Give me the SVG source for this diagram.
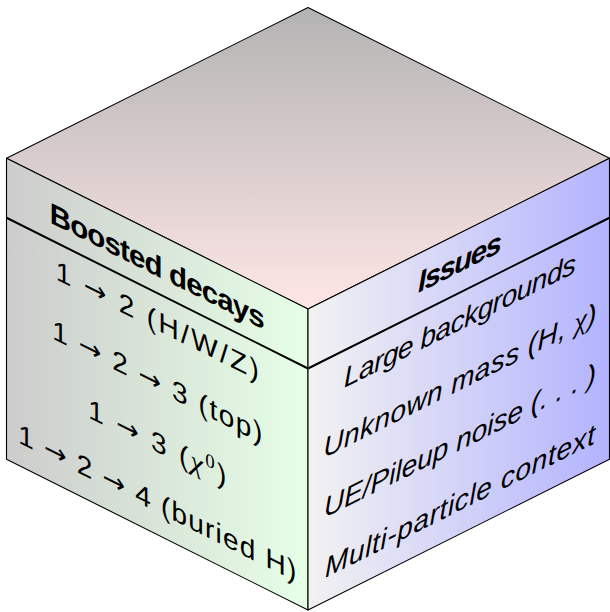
<svg xmlns="http://www.w3.org/2000/svg" width="610" height="612" viewBox="0 0 610 612">
<defs>
<linearGradient id="gTop" gradientUnits="userSpaceOnUse" x1="0" y1="7.5" x2="0" y2="309"><stop offset="0" stop-color="#b3b3b3"/><stop offset="1" stop-color="#ffe6e6"/></linearGradient>
<linearGradient id="gLeft" gradientUnits="userSpaceOnUse" x1="6.5" y1="0" x2="308" y2="0"><stop offset="0" stop-color="#cccccc"/><stop offset="1" stop-color="#e6ffe6"/></linearGradient>
<linearGradient id="gRight" gradientUnits="userSpaceOnUse" x1="308" y1="0" x2="609.5" y2="0"><stop offset="0" stop-color="#f2f2f2"/><stop offset="1" stop-color="#b3b3ff"/></linearGradient>
<style>
.face{stroke:#000;stroke-width:1.1;stroke-linejoin:round}
.div{stroke:#000;stroke-width:2;fill:none}
.t{font-family:"Liberation Sans","DejaVu Sans",sans-serif;font-size:28px;fill:#000;text-anchor:middle}
.h{font-weight:bold;font-size:29.5px}
.it{font-style:italic}
.m{font-family:"Liberation Serif","DejaVu Serif",serif;font-style:italic}
.a{font-family:"DejaVu Sans",sans-serif;font-size:27px}
.sup{font-family:"Liberation Serif","DejaVu Serif",serif;font-style:normal;font-size:19px}
</style>
</defs>
<g id="top-face">
<polygon class="face" points="308,7.5 609.5,158.25 308,309 6.5,158.25" fill="url(#gTop)"/>
</g>
<g id="left-face">
<polygon class="face" points="6.5,158.25 308,309 308,610 6.5,459.25" fill="url(#gLeft)"/>
<line class="div" x1="6.5" y1="217.75" x2="308" y2="368.5"/>
<g transform="matrix(1,0.5,0,1,6.5,158.25)">
<text class="t h" x="150.75" y="42.7" textLength="215">Boosted decays</text>
<text class="t" x="150.75" y="96.5" textLength="203">1 <tspan class="a">→</tspan> 2 (H/W/Z)</text>
<text class="t" x="150.75" y="157.5" textLength="210">1 <tspan class="a">→</tspan> 2 <tspan class="a">→</tspan> 3 (top)</text>
<text class="t" x="150.75" y="218.5" textLength="138">1 <tspan class="a">→</tspan> 3 (<tspan class="m">χ</tspan><tspan class="sup" dy="-11">0</tspan><tspan dy="11">)</tspan></text>
<text class="t" x="150.75" y="278.5" textLength="278">1 <tspan class="a">→</tspan> 2 <tspan class="a">→</tspan> 4 (buried H)</text>
</g>
</g>
<g id="right-face">
<polygon class="face" points="308,309 609.5,158.25 609.5,459.25 308,610" fill="url(#gRight)"/>
<line class="div" x1="308" y1="368.5" x2="609.5" y2="217.75"/>
<g transform="matrix(1,-0.5,0,1,308,309)">
<text class="t h it" x="152" y="39" textLength="84">Issues</text>
<text class="t it" x="152" y="97" textLength="232">Large backgrounds</text>
<text class="t it" x="152" y="157" textLength="273">Unknown mass (H, <tspan class="m">χ</tspan>)</text>
<text class="t it" x="152" y="217" textLength="272">UE/Pileup noise (. . . )</text>
<text class="t it" x="152" y="277.5" textLength="270">Multi-particle context</text>
</g>
</g>
</svg>
